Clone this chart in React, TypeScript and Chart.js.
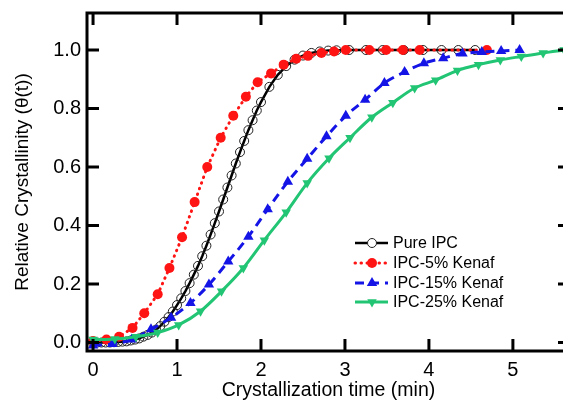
import React, { useEffect, useRef } from "react";
import { Chart, registerables } from "chart.js";

Chart.register(...registerables);

// ---- data ----
const SERIES_LABELS = ["Pure IPC", "IPC-5% Kenaf", "IPC-15% Kenaf", "IPC-25% Kenaf"];

const PURE_T = [0, 0.05, 0.1, 0.15, 0.2, 0.25, 0.3, 0.35, 0.4, 0.45, 0.5, 0.55, 0.6, 0.65, 0.7, 0.75, 0.8, 0.85, 0.9, 0.95, 1.0, 1.05, 1.1, 1.15, 1.2, 1.25, 1.3, 1.35, 1.4, 1.45, 1.5, 1.55, 1.6, 1.65, 1.7, 1.75, 1.8, 1.85, 1.9, 1.95, 2.0, 2.1, 2.2, 2.3, 2.4, 2.5, 2.6, 2.7, 2.8, 2.9, 3.05, 3.25, 3.45, 3.7, 3.93, 4.15, 4.35, 4.55];
const PURE_Y = [0, 0, 0, 0, 0, 0.001, 0.002, 0.003, 0.004, 0.007, 0.01, 0.014, 0.02, 0.026, 0.034, 0.044, 0.056, 0.071, 0.087, 0.106, 0.128, 0.151, 0.176, 0.203, 0.232, 0.262, 0.295, 0.331, 0.369, 0.408, 0.448, 0.489, 0.53, 0.571, 0.612, 0.651, 0.689, 0.726, 0.76, 0.793, 0.822, 0.874, 0.915, 0.945, 0.967, 0.981, 0.99, 0.995, 0.998, 0.999, 1, 1, 1, 1, 1, 1, 1, 1];

const RED_T = [0, 0.16, 0.31, 0.47, 0.61, 0.77, 0.91, 1.06, 1.21, 1.36, 1.52, 1.67, 1.82, 1.96, 2.12, 2.27, 2.42, 2.56, 2.72, 2.87, 3.01, 3.29, 3.49, 3.69, 3.89, 4.69];
const RED_Y = [0.005, 0.01, 0.02, 0.05, 0.1, 0.165, 0.255, 0.36, 0.48, 0.6, 0.7, 0.775, 0.84, 0.89, 0.92, 0.95, 0.97, 0.98, 0.99, 0.995, 1, 1, 1, 1, 1, 1];

const BLUE_T = [0, 0.23, 0.46, 0.69, 0.93, 1.16, 1.38, 1.61, 1.85, 2.08, 2.32, 2.55, 2.78, 3.01, 3.24, 3.47, 3.71, 3.94, 4.17, 4.4, 4.63, 4.86, 5.08];
const BLUE_Y = [-0.01, -0.005, 0.01, 0.045, 0.085, 0.135, 0.198, 0.277, 0.362, 0.456, 0.55, 0.628, 0.705, 0.775, 0.83, 0.887, 0.925, 0.955, 0.972, 0.988, 0.993, 0.997, 1.0];

const GREEN_T = [0, 0.26, 0.51, 0.77, 1.02, 1.28, 1.53, 1.79, 2.04, 2.3, 2.55, 2.81, 3.06, 3.32, 3.57, 3.83, 4.08, 4.34, 4.59, 4.85, 5.1, 5.36, 5.61];
const GREEN_Y = [0.01, 0.012, 0.02, 0.034, 0.06, 0.107, 0.175, 0.255, 0.35, 0.445, 0.545, 0.63, 0.7, 0.77, 0.82, 0.87, 0.897, 0.93, 0.95, 0.966, 0.978, 0.99, 1.0];

const X_TICKS = [0, 1, 2, 3, 4, 5];
const Y_TICKS = [0, 0.2, 0.4, 0.6, 0.8, 1.0];

const X_TITLE = "Crystallization time (min)";
const Y_TITLE = "Relative Crystallinity (θ(t))";

// ---- styles ----
const FONT = "'Liberation Sans', Arial, Helvetica, sans-serif";
const BLACK = "#000000";
const RED = "#ff1414";
const BLUE = "#1414e6";
const GREEN = "#22c573";

const STYLES = [
  { color: BLACK, dash: [] as number[], cap: "butt", width: 2.5, shape: "circle", r: 4.5, fill: false },
  { color: RED, dash: [0.5, 5.5], cap: "round", width: 3, shape: "circle", r: 5, fill: true },
  { color: BLUE, dash: [9, 6], cap: "butt", width: 3, shape: "triangle", r: 6, fill: true },
  { color: GREEN, dash: [] as number[], cap: "butt", width: 3, shape: "triangleDown", r: 5.5, fill: true },
];

function pts(t: number[], y: number[]) {
  return t.map((v, i) => ({ x: v, y: y[i] }));
}

function drawMarker(ctx: CanvasRenderingContext2D, shape: string, x: number, y: number, r: number, color: string, fill: boolean) {
  ctx.save();
  ctx.setLineDash([]);
  ctx.beginPath();
  if (shape === "circle") {
    ctx.arc(x, y, r, 0, Math.PI * 2);
  } else {
    const s = shape === "triangle" ? 1 : -1;
    const h = r;
    ctx.moveTo(x, y - s * h);
    ctx.lineTo(x + r * 0.866, y + s * h * 0.5);
    ctx.lineTo(x - r * 0.866, y + s * h * 0.5);
    ctx.closePath();
  }
  if (fill) {
    ctx.fillStyle = color;
    ctx.fill();
  } else {
    ctx.fillStyle = "#ffffff";
    ctx.fill();
    ctx.lineWidth = 1;
    ctx.strokeStyle = "#222";
    ctx.stroke();
  }
  ctx.restore();
}

const framePlugin = {
  id: "frameTicks",
  afterDatasetsDraw(chart: any) {
    const { ctx, chartArea } = chart;
    const { left, right, top, bottom } = chartArea;
    const xs = chart.scales.x;
    const ys = chart.scales.y;
    const TL = 12;
    ctx.save();
    ctx.strokeStyle = "#000";
    ctx.lineWidth = 3;
    ctx.setLineDash([]);
    ctx.beginPath();
    ctx.rect(left, top, right - left, bottom - top);
    ctx.stroke();
    ctx.beginPath();
    X_TICKS.forEach((v) => {
      const px = xs.getPixelForValue(v);
      ctx.moveTo(px, bottom);
      ctx.lineTo(px, bottom - TL);
      ctx.moveTo(px, top);
      ctx.lineTo(px, top + TL);
    });
    Y_TICKS.forEach((v) => {
      const py = ys.getPixelForValue(v);
      ctx.moveTo(left, py);
      ctx.lineTo(left + TL, py);
      ctx.moveTo(right, py);
      ctx.lineTo(right - TL, py);
    });
    ctx.stroke();
    ctx.restore();
  },
};

const legendPlugin = {
  id: "customLegend",
  afterDraw(chart: any) {
    const { ctx } = chart;
    const rows = [243, 263, 283, 302];
    const x0 = 355;
    const x1 = 388;
    const xm = 372;
    ctx.save();
    SERIES_LABELS.forEach((label, i) => {
      const st = STYLES[i];
      const y = rows[i];
      ctx.strokeStyle = st.color;
      ctx.lineWidth = st.width;
      ctx.lineCap = st.cap as CanvasLineCap;
      ctx.setLineDash(st.dash);
      ctx.beginPath();
      ctx.moveTo(x0, y);
      ctx.lineTo(x1, y);
      ctx.stroke();
      drawMarker(ctx, st.shape, xm, y, st.r, st.color, st.fill);
      ctx.setLineDash([]);
      ctx.fillStyle = "#000";
      ctx.font = `16px ${FONT}`;
      ctx.textAlign = "left";
      ctx.textBaseline = "middle";
      ctx.fillText(label, 393, y + 1);
    });
    ctx.restore();
  },
};

export default function App() {
  const ref = useRef<HTMLCanvasElement | null>(null);

  useEffect(() => {
    if (!ref.current) return;
    const sources = [
      pts(PURE_T, PURE_Y),
      pts(RED_T, RED_Y),
      pts(BLUE_T, BLUE_Y),
      pts(GREEN_T, GREEN_Y),
    ];
    const orders = [4, 3, 2, 1];
    const datasets = sources.map((data, i) => {
      const st = STYLES[i];
      return {
        label: SERIES_LABELS[i],
        data,
        order: orders[i],
        borderColor: st.color,
        borderWidth: st.width,
        borderDash: st.dash,
        borderCapStyle: st.cap,
        backgroundColor: st.color,
        pointStyle: st.shape === "circle" ? "circle" : "triangle",
        rotation: st.shape === "triangleDown" ? 180 : 0,
        pointRadius: st.r,
        pointBorderWidth: st.fill ? 0 : 1,
        pointBorderColor: st.fill ? st.color : "#222",
        pointBackgroundColor: st.fill ? st.color : "rgba(255,255,255,0)",
        cubicInterpolationMode: i >= 2 ? "monotone" : "default",
        tension: 0,
        fill: false,
      };
    });

    const chart = new Chart(ref.current, {
      type: "line",
      data: { datasets: datasets as any },
      options: {
        responsive: false,
        animation: false,
        devicePixelRatio: 1,
        layout: { padding: { left: 0, top: 13, right: 10, bottom: 0 } },
        plugins: { legend: { display: false }, tooltip: { enabled: false } },
        scales: {
          x: {
            type: "linear",
            min: -0.072,
            max: 5.68,
            grid: { display: false, drawTicks: false, tickLength: 0 },
            border: { display: false },
            afterBuildTicks: (s: any) => {
              s.ticks = X_TICKS.map((v) => ({ value: v }));
            },
            afterFit: (s: any) => {
              s.height = 52;
              s.paddingLeft = 0;
              s.paddingRight = 0;
            },
            ticks: {
              color: "#000",
              font: { family: FONT, size: 20 },
              padding: 7,
              maxRotation: 0,
              callback: (v: any) => String(v),
            },
            title: {
              display: true,
              text: X_TITLE,
              color: "#000",
              font: { family: FONT, size: 19.5 },
              padding: { top: 0, bottom: 1 },
            },
          },
          y: {
            type: "linear",
            min: -0.029,
            max: 1.1265,
            grid: { display: false, drawTicks: false, tickLength: 0 },
            border: { display: false },
            afterBuildTicks: (s: any) => {
              s.ticks = Y_TICKS.map((v) => ({ value: v }));
            },
            afterFit: (s: any) => {
              s.width = 87;
              s.paddingTop = 0;
              s.paddingBottom = 0;
            },
            ticks: {
              color: "#000",
              font: { family: FONT, size: 20 },
              padding: 6,
              callback: (v: any) => Number(v).toFixed(1),
            },
            title: {
              display: true,
              text: Y_TITLE,
              color: "#000",
              font: { family: FONT, size: 19 },
              padding: { top: 11, bottom: 0 },
            },
          },
        },
      },
      plugins: [framePlugin, legendPlugin],
    } as any);
    return () => chart.destroy();
  }, []);

  return (
    <div
      style={{
        position: "fixed",
        left: 0,
        top: 0,
        width: 563,
        height: 403,
        overflow: "hidden",
        background: "#fff",
      }}
    >
      <canvas ref={ref} width={580} height={403} style={{ display: "block", width: 580, height: 403 }} />
    </div>
  );
}
